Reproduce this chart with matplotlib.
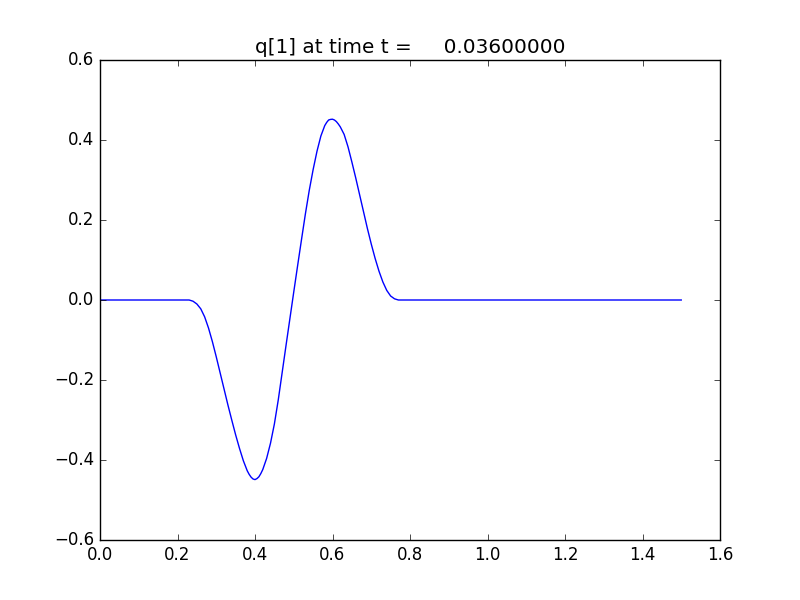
import matplotlib
matplotlib.use("Agg")
import matplotlib.pyplot as plt

plt.style.use("classic")

title_text = "q[1] at time t =     0.03600000"

x_vals = [0.00, 0.23, 0.24, 0.25, 0.26, 0.27, 0.28, 0.29, 0.30, 0.31, 0.32,
          0.33, 0.34, 0.35, 0.36, 0.37, 0.38, 0.385, 0.39, 0.395, 0.40,
          0.405, 0.41, 0.415, 0.42, 0.43, 0.44, 0.45, 0.46, 0.47, 0.48, 0.49,
          0.50, 0.51, 0.52, 0.53, 0.54, 0.55, 0.56, 0.57, 0.58, 0.585, 0.59,
          0.595, 0.60, 0.605, 0.61, 0.615, 0.62, 0.63, 0.64, 0.65, 0.66, 0.67,
          0.68, 0.69, 0.70, 0.71, 0.72, 0.73, 0.74, 0.75, 0.76, 0.77, 1.50]
q1_vals = [0.0, 0.0, -0.003, -0.010, -0.022, -0.042, -0.070, -0.104, -0.142,
           -0.182, -0.222, -0.262, -0.300, -0.337, -0.371, -0.402, -0.427,
           -0.436, -0.443, -0.4475, -0.449, -0.4465, -0.442, -0.434, -0.424,
           -0.396, -0.358, -0.310, -0.250, -0.182, -0.114, -0.047, 0.020,
           0.086, 0.151, 0.215, 0.274, 0.326, 0.372, 0.410, 0.436, 0.444,
           0.450, 0.4515, 0.452, 0.450, 0.446, 0.440, 0.433, 0.414, 0.383,
           0.345, 0.305, 0.263, 0.221, 0.179, 0.140, 0.104, 0.072, 0.045,
           0.024, 0.010, 0.003, 0.0, 0.0]

fig = plt.figure(figsize=(8, 6), dpi=100, facecolor="white")
ax = fig.add_subplot(111)
ax.plot(x_vals, q1_vals, "b-", linewidth=1.0)
ax.set_xlim(0.0, 1.6)
ax.set_ylim(-0.6, 0.6)
ax.set_title(title_text)
fig.savefig("out.png", dpi=100, facecolor="white")
